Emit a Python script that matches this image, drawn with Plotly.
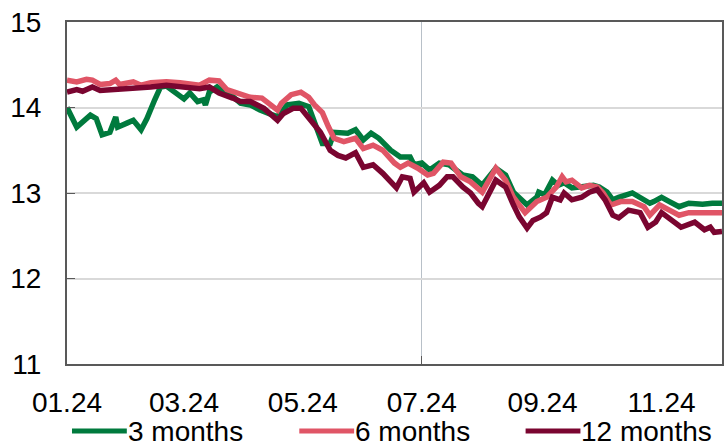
import plotly.graph_objects as go

# ---- data ----
dates_3m = ["2024-01-01","2024-01-06","2024-01-13","2024-01-16","2024-01-19","2024-01-23","2024-01-26","2024-01-27",
            "2024-02-01","2024-02-04","2024-02-08","2024-02-11","2024-02-15","2024-02-18","2024-02-21","2024-02-26",
            "2024-03-01","2024-03-04","2024-03-08","2024-03-11","2024-03-12","2024-03-14","2024-03-18","2024-03-23",
            "2024-03-26","2024-03-30","2024-04-04","2024-04-09","2024-04-18","2024-04-23","2024-04-29","2024-05-04",
            "2024-05-08","2024-05-11","2024-05-15","2024-05-17","2024-05-24","2024-05-28","2024-06-01","2024-06-05",
            "2024-06-09","2024-06-15","2024-06-20","2024-06-25","2024-06-27","2024-07-01","2024-07-05","2024-07-10",
            "2024-07-15","2024-07-19","2024-07-22","2024-07-27","2024-07-30","2024-08-01","2024-08-08","2024-08-13",
            "2024-08-17","2024-08-24","2024-08-29","2024-08-30","2024-09-02","2024-09-06","2024-09-09","2024-09-12",
            "2024-09-16","2024-09-21","2024-09-27","2024-09-30","2024-10-04","2024-10-07","2024-10-10","2024-10-17",
            "2024-10-21","2024-10-26","2024-10-28","2024-11-01","2024-11-05","2024-11-10","2024-11-15","2024-11-22",
            "2024-11-27","2024-12-02"]
values_3m = [14.00,13.77,13.91,13.87,13.68,13.71,13.89,13.77,
             13.82,13.85,13.74,13.87,14.09,14.24,14.25,14.17,
             14.10,14.17,14.07,14.09,14.03,14.18,14.24,14.15,
             14.13,14.05,14.03,13.97,13.89,14.03,14.05,14.01,
             13.77,13.58,13.58,13.71,13.70,13.74,13.62,13.70,
             13.64,13.50,13.42,13.42,13.33,13.35,13.27,13.35,
             13.33,13.25,13.21,13.19,13.12,13.09,13.29,13.21,
             13.01,12.86,12.95,13.01,12.98,13.15,13.09,13.12,
             13.06,13.07,13.09,13.07,13.01,12.92,12.95,13.00,
             12.94,12.88,12.90,12.95,12.90,12.84,12.88,12.87,
             12.88,12.88]

dates_6m = ["2024-01-01","2024-01-06","2024-01-11","2024-01-14","2024-01-18","2024-01-23","2024-01-26","2024-01-28",
            "2024-02-04","2024-02-08","2024-02-13","2024-02-21","2024-02-28","2024-03-09","2024-03-14","2024-03-19",
            "2024-03-23","2024-03-28","2024-04-04","2024-04-10","2024-04-13","2024-04-18","2024-04-20","2024-04-25",
            "2024-04-30","2024-05-04","2024-05-07","2024-05-11","2024-05-14","2024-05-17","2024-05-22","2024-05-28",
            "2024-06-01","2024-06-06","2024-06-11","2024-06-17","2024-06-20","2024-06-24","2024-06-29","2024-07-04",
            "2024-07-07","2024-07-12","2024-07-16","2024-07-21","2024-07-26","2024-07-29","2024-08-01","2024-08-08",
            "2024-08-13","2024-08-17","2024-08-23","2024-08-29","2024-09-03","2024-09-08","2024-09-11","2024-09-13",
            "2024-09-16","2024-09-21","2024-09-25","2024-09-29","2024-10-02","2024-10-06","2024-10-11","2024-10-17",
            "2024-10-23","2024-10-26","2024-10-31","2024-11-05","2024-11-10","2024-11-15","2024-11-22","2024-12-02"]
values_6m = [14.32,14.30,14.33,14.32,14.27,14.28,14.32,14.27,
             14.30,14.26,14.29,14.30,14.29,14.26,14.32,14.31,
             14.21,14.17,14.12,14.11,14.05,13.97,14.05,14.15,
             14.18,14.12,14.03,13.94,13.78,13.64,13.60,13.64,
             13.52,13.56,13.50,13.35,13.30,13.35,13.29,13.21,
             13.23,13.36,13.35,13.19,13.13,13.06,13.01,13.29,
             13.15,12.95,12.77,12.90,12.95,13.07,13.19,13.13,
             13.15,13.06,13.09,13.07,13.00,12.86,12.90,12.90,
             12.84,12.74,12.86,12.80,12.74,12.77,12.77,12.77]

dates_12m = ["2024-01-01","2024-01-06","2024-01-09","2024-01-14","2024-01-18","2024-01-27","2024-02-04","2024-02-13",
             "2024-02-21","2024-02-29","2024-03-09","2024-03-14","2024-03-19","2024-03-26","2024-03-30","2024-04-04",
             "2024-04-11","2024-04-15","2024-04-18","2024-04-21","2024-04-26","2024-04-30","2024-05-05","2024-05-10",
             "2024-05-15","2024-05-19","2024-05-23","2024-05-28","2024-06-01","2024-06-06","2024-06-11","2024-06-18",
             "2024-06-21","2024-06-25","2024-06-27","2024-07-02","2024-07-05","2024-07-10","2024-07-14","2024-07-17",
             "2024-07-22","2024-07-26","2024-07-30","2024-08-01","2024-08-08","2024-08-13","2024-08-17","2024-08-20",
             "2024-08-24","2024-08-27","2024-08-31","2024-09-03","2024-09-06","2024-09-10","2024-09-12","2024-09-16",
             "2024-09-21","2024-09-25","2024-09-29","2024-10-03","2024-10-07","2024-10-10","2024-10-15","2024-10-21",
             "2024-10-25","2024-10-29","2024-11-01","2024-11-06","2024-11-11","2024-11-18","2024-11-23","2024-11-26",
             "2024-11-28","2024-12-02"]
values_12m = [14.18,14.21,14.19,14.24,14.20,14.21,14.22,14.24,
              14.26,14.24,14.22,14.24,14.17,14.11,14.07,14.07,
              13.99,13.91,13.85,13.93,13.99,13.99,13.85,13.71,
              13.50,13.44,13.41,13.47,13.30,13.33,13.23,13.06,
              13.19,13.17,13.01,13.12,13.01,13.09,13.19,13.19,
              13.07,13.00,12.88,12.84,13.15,13.07,12.86,12.72,
              12.59,12.68,12.72,12.77,12.95,12.92,13.00,12.92,
              12.95,13.01,13.04,12.92,12.74,12.71,12.80,12.77,
              12.60,12.66,12.77,12.68,12.60,12.66,12.57,12.60,
              12.54,12.55]

series_names = ["3 months", "6 months", "12 months"]
series_colors = ["#007A3D", "#E05566", "#7A0530"]

x_tickvals = ["2024-01-01","2024-03-01","2024-05-01","2024-07-01","2024-09-01","2024-11-01"]
x_ticktext = ["01.24","03.24","05.24","07.24","09.24","11.24"]
y_tickvals = [11, 12, 13, 14, 15]

FONT = "Liberation Sans, Arial, sans-serif"
FS = 28

W, H = 726, 445
plot_l, plot_r, plot_t, plot_b = 67, 724, 22, 364
pw, ph = plot_r - plot_l, plot_b - plot_t

fig = go.Figure()
for name, xs, ys, col in zip(series_names, [dates_3m, dates_6m, dates_12m],
                             [values_3m, values_6m, values_12m], series_colors):
    fig.add_trace(go.Scatter(x=xs, y=ys, mode="lines", name=name,
                             line=dict(color=col, width=5.5), showlegend=False))

# manual legend (line samples + labels) in paper coords
legend_left_px = [72, 300, 527]
ly = (plot_b - 431) / ph
for name, col, lx in zip(series_names, series_colors, legend_left_px):
    x0 = (lx - plot_l) / pw
    x1 = (lx + 55 - plot_l) / pw
    fig.add_shape(type="line", xref="paper", yref="paper", x0=x0, x1=x1, y0=ly, y1=ly,
                  line=dict(color=col, width=5))
    fig.add_annotation(xref="paper", yref="paper", x=(lx + 56 - plot_l) / pw, y=ly,
                       text=name, showarrow=False, xanchor="left", yanchor="middle",
                       xshift=-2, font=dict(family=FONT, size=FS, color="#000000"))

fig.update_layout(
    width=W, height=H,
    margin=dict(l=plot_l, r=W - plot_r, t=plot_t, b=H - plot_b),
    paper_bgcolor="white", plot_bgcolor="white",
    font=dict(family=FONT, size=FS, color="#000000"),
    showlegend=False,
)
fig.update_xaxes(
    type="date", range=["2024-01-01", "2024-12-02"],
    tickvals=x_tickvals, ticktext=x_ticktext, ticks="", showgrid=False,
    showline=True, mirror=True, linecolor="#595959", linewidth=2,
    ticklabelstandoff=12, ticklabeloverflow="allow",
    minor=dict(tickvals=["2024-07-01"], ticks="inside", ticklen=8, tickcolor="#595959",
               showgrid=True, gridcolor="#B8C0C8", gridwidth=1),
    zeroline=False,
)
fig.update_yaxes(
    range=[11, 15], tickvals=y_tickvals, ticks="inside", ticklen=8, tickcolor="#595959",
    showgrid=True, gridcolor="#D9D9D9", gridwidth=2,
    showline=True, mirror=True, linecolor="#595959", linewidth=2,
    ticklabelstandoff=18, ticklabeloverflow="allow", zeroline=False,
)

fig.write_html(
    "out.html",
    config={"displayModeBar": False},
    post_script="document.documentElement.style.overflow='hidden';"
                "document.body.style.margin='0';document.body.style.overflow='hidden';",
)
